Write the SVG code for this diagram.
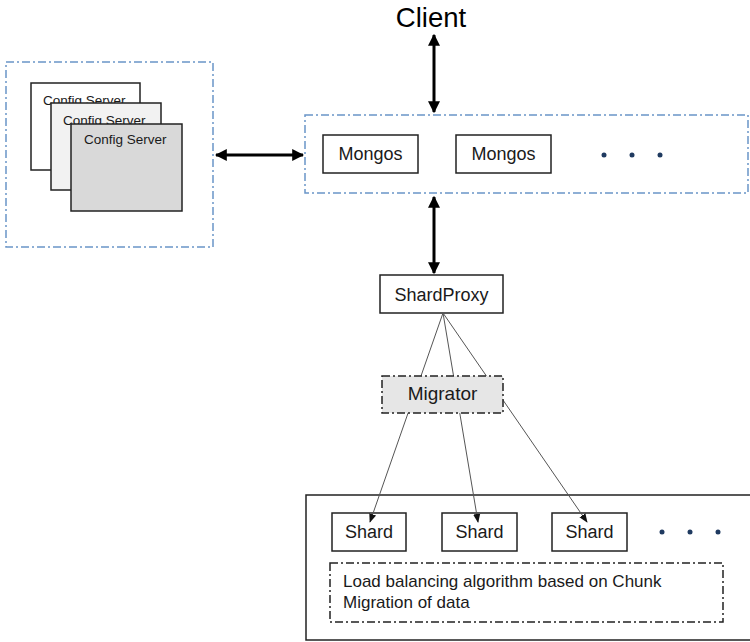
<svg xmlns="http://www.w3.org/2000/svg" width="750" height="642" viewBox="0 0 750 642">
<defs>
<style>
text{font-family:"Liberation Sans",Arial,sans-serif;fill:#1a1a1a}
.box{fill:#fff;stroke:#222;stroke-width:1.5}
.grp{fill:none;stroke:#6a95c8;stroke-width:1.5;stroke-dasharray:8 3 2 3}
.dd{stroke:#222;stroke-width:1.5;stroke-dasharray:8 3 2 3}
.thick{stroke:#000;stroke-width:3;fill:none}
.thin{stroke:#555;stroke-width:1;fill:none}
.dot{fill:#1f3a60}
</style>
<marker id="ah" viewBox="0 0 10 10" refX="9" refY="5" markerWidth="4" markerHeight="4" orient="auto-start-reverse"><path d="M0,0 L10,5 L0,10 z" fill="#000"/></marker>
<marker id="as" viewBox="0 0 10 10" refX="9" refY="5" markerUnits="userSpaceOnUse" markerWidth="9" markerHeight="9" orient="auto"><path d="M0,1 L10,5 L0,9 z" fill="#111"/></marker>
</defs>
<rect width="750" height="642" fill="#fff"/>

<g id="config-group">
<rect class="grp" x="6" y="62" width="207" height="185"/>
<g id="config1"><rect class="box" x="31" y="83" width="109" height="87"/><text x="43" y="105" font-size="13.5">Config Server</text></g>
<g id="config2"><rect class="box" x="51" y="103" width="110" height="87" style="fill:#f2f2f2"/><text x="63" y="125" font-size="13.5">Config Server</text></g>
<g id="config3"><rect class="box" x="71" y="124" width="111" height="87" style="fill:#d9d9d9"/><text x="84" y="144" font-size="13.5">Config Server</text></g>
</g>

<g id="client"><text x="431" y="27" font-size="27.5" text-anchor="middle" style="fill:#000">Client</text></g>

<g id="mongos-group">
<rect class="grp" x="305" y="115" width="443" height="78"/>
<g id="mongos1"><rect class="box" x="323" y="135" width="95" height="38"/><text x="370.5" y="160" font-size="18" text-anchor="middle">Mongos</text></g>
<g id="mongos2"><rect class="box" x="456" y="135" width="95" height="38"/><text x="503.5" y="160" font-size="18" text-anchor="middle">Mongos</text></g>
<circle class="dot" cx="604" cy="155" r="2.5"/><circle class="dot" cx="632" cy="155" r="2.5"/><circle class="dot" cx="660" cy="155" r="2.5"/>
</g>

<g id="shardproxy"><rect class="box" x="380" y="275" width="123" height="38"/><text x="441.5" y="301" font-size="18" text-anchor="middle">ShardProxy</text></g>

<g id="shard-group">
<rect x="306" y="495" width="460" height="145" fill="none" stroke="#222" stroke-width="1.5"/>
<g id="shard1"><rect class="box" x="332" y="513" width="74" height="38"/><text x="369" y="538" font-size="18" text-anchor="middle">Shard</text></g>
<g id="shard2"><rect class="box" x="442" y="513" width="75" height="38"/><text x="479.5" y="538" font-size="18" text-anchor="middle">Shard</text></g>
<g id="shard3"><rect class="box" x="552" y="513" width="75" height="38"/><text x="589.5" y="538" font-size="18" text-anchor="middle">Shard</text></g>
<circle class="dot" cx="662" cy="532" r="2.5"/><circle class="dot" cx="690" cy="532" r="2.5"/><circle class="dot" cx="718" cy="532" r="2.5"/>
<g id="lb-note"><rect class="dd" x="330" y="563" width="393" height="59" fill="none"/>
<text x="343" y="587" font-size="17">Load balancing algorithm based on Chunk</text>
<text x="343" y="608" font-size="17">Migration of data</text></g>
</g>

<g id="connectors">
<line class="thick" x1="434" y1="35" x2="434" y2="112" marker-start="url(#ah)" marker-end="url(#ah)"/>
<line class="thick" x1="216" y1="155" x2="303" y2="155" marker-start="url(#ah)" marker-end="url(#ah)"/>
<line class="thick" x1="434" y1="197" x2="434" y2="273" marker-start="url(#ah)" marker-end="url(#ah)"/>
<line class="thin" x1="443" y1="313" x2="370" y2="522" marker-end="url(#as)"/>
<line class="thin" x1="443" y1="313" x2="478" y2="522" marker-end="url(#as)"/>
<line class="thin" x1="443" y1="313" x2="587" y2="522" marker-end="url(#as)"/>
</g>

<g id="migrator"><rect class="dd" x="382" y="376" width="121" height="37" fill="#e6e6e6"/><text x="442.5" y="400" font-size="19" text-anchor="middle">Migrator</text></g>
</svg>
